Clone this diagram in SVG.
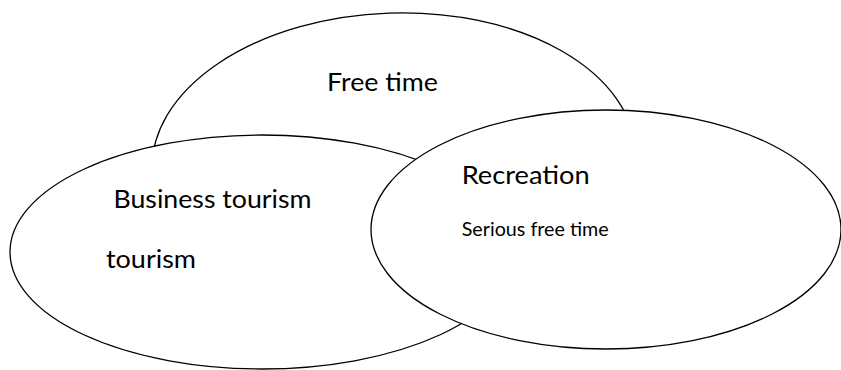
<svg xmlns="http://www.w3.org/2000/svg" width="841" height="370" viewBox="0 0 841 370">
  <style>
    .shape { fill: #ffffff; stroke: #000000; stroke-width: 1.3; }
    .big { font-family: Lato, "Open Sans", "Liberation Sans", sans-serif; font-size: 25px; fill: #000000; }
    .small { font-family: Lato, "Open Sans", "Liberation Sans", sans-serif; font-size: 19px; fill: #000000; }
  </style>
  <rect x="0" y="0" width="841" height="370" fill="#ffffff"/>
  <g id="free-time">
    <ellipse class="shape" cx="394" cy="162" rx="242" ry="149" transform="rotate(-2 394 162)"/>
    <text class="big" x="327" y="90.5" textLength="111" lengthAdjust="spacingAndGlyphs">Free time</text>
  </g>
  <g id="business-tourism">
    <ellipse class="shape" cx="262" cy="252" rx="252" ry="117"/>
    <text class="big" x="113.5" y="208.3" textLength="198" lengthAdjust="spacingAndGlyphs">Business tourism</text>
    <text class="big" x="106" y="267.7" textLength="90" lengthAdjust="spacingAndGlyphs">tourism</text>
  </g>
  <g id="recreation">
    <ellipse class="shape" cx="606" cy="229.5" rx="235" ry="119.5"/>
    <text class="big" x="461.7" y="184.3" textLength="128" lengthAdjust="spacingAndGlyphs">Recreation</text>
    <text class="small" x="461.7" y="236" textLength="147" lengthAdjust="spacingAndGlyphs">Serious free time</text>
  </g>
  <g id="connectors"/>
</svg>
